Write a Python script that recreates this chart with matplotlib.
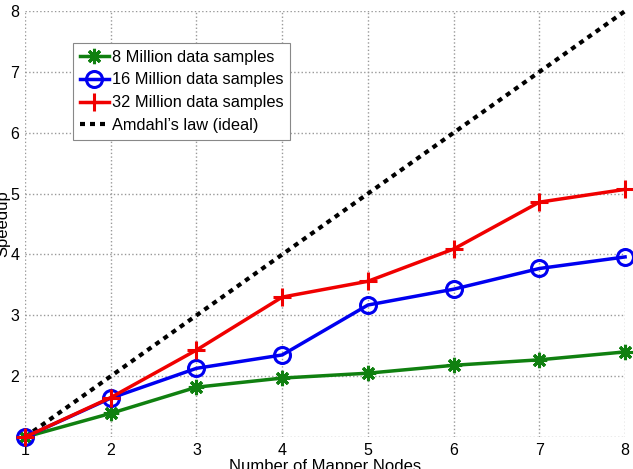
import matplotlib
matplotlib.use("Agg")
import matplotlib.pyplot as plt

plt.rcParams['font.family'] = ['Liberation Sans', 'DejaVu Sans']

nodes = [1, 2, 3, 4, 5, 6, 7, 8]
speedup_8m = [1.0, 1.39, 1.82, 1.97, 2.05, 2.18, 2.27, 2.40]
speedup_16m = [1.0, 1.64, 2.13, 2.35, 3.17, 3.43, 3.77, 3.96]
speedup_32m = [1.0, 1.65, 2.43, 3.30, 3.56, 4.09, 4.86, 5.07]
ideal = [1, 2, 3, 4, 5, 6, 7, 8]

fig = plt.figure(figsize=(6.33, 4.69), dpi=100)
ax = fig.add_axes([0.0395, 0.068, 0.948, 0.9085])

ax.plot(nodes, speedup_8m, color='#108010', lw=2.5, marker=(8, 2, 0), ms=11,
        mew=2.2, label='8 Million data samples', clip_on=False, zorder=3)
ax.plot(nodes, speedup_16m, color='#0000f0', lw=2.5, marker='o', ms=11.5,
        mfc='none', mew=2.2, label='16 Million data samples', clip_on=False, zorder=4)
ax.plot(nodes, speedup_32m, color='#f00000', lw=2.5, marker='+', ms=13,
        mew=2.2, label='32 Million data samples', clip_on=False, zorder=5)
ax.plot(nodes, ideal, color='black', lw=3, ls=(0, (1.2, 1.2)),
        label="Amdahl\u2019s law (ideal)", clip_on=False, zorder=2)

ax.set_xlim(1, 8)
ax.set_ylim(1, 8)
ax.set_xticks(nodes)
ax.set_yticks(range(1, 9))
ax.set_yticklabels([''] + [str(i) for i in range(2, 9)])
ax.tick_params(labelsize=11.5, length=0, pad=4)
ax.grid(True, ls=':', color='#999999', lw=1)
for s in ax.spines.values():
    s.set_visible(False)

ax.set_xlabel('Number of Mapper Nodes', fontsize=12, labelpad=1)
ax.set_ylabel('Speedup', fontsize=12)
ax.yaxis.set_label_coords(-0.024, 0.5)

leg = ax.legend(loc='upper left', bbox_to_anchor=(0.08, 0.925), fontsize=11.8,
                frameon=True, fancybox=False, edgecolor='#888888',
                handlelength=1.8, handletextpad=0.15, borderpad=0.4,
                labelspacing=0.48, borderaxespad=0, framealpha=1)
leg.get_frame().set_linewidth(0.8)

fig.savefig('out.png', dpi=100)
